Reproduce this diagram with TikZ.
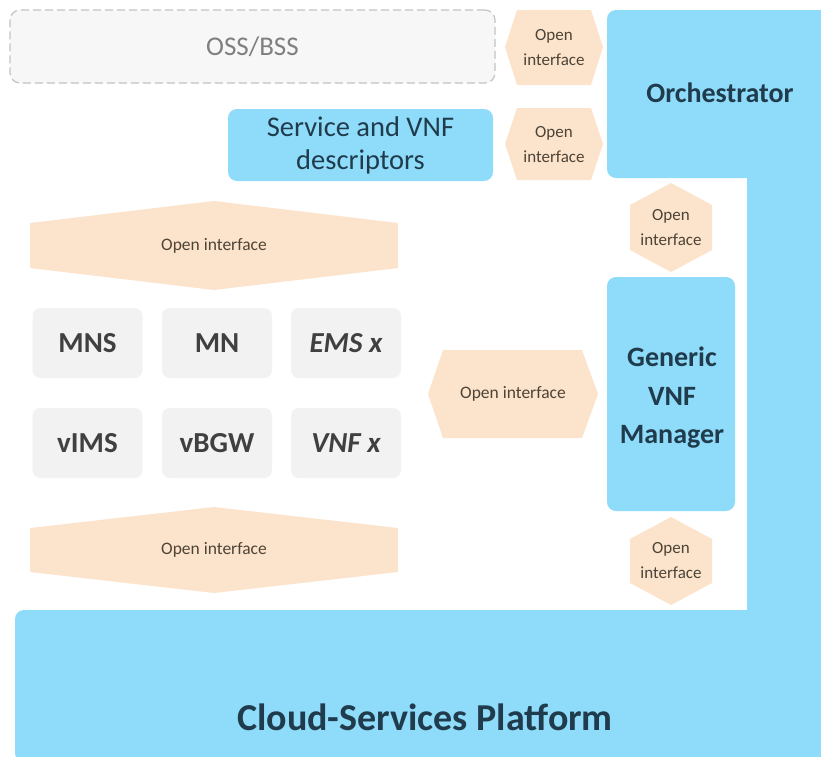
\documentclass[tikz,border=0pt]{standalone}
\usepackage{fontspec}
\setmainfont{Carlito}
\definecolor{skyb}{HTML}{8EDBFA}
\definecolor{peach}{HTML}{FCE4CC}
\definecolor{greybox}{HTML}{F2F2F2}
\definecolor{navy}{HTML}{203B4C}
\definecolor{darkg}{HTML}{404040}
\definecolor{hextext}{HTML}{4D4336}
\definecolor{ossfill}{HTML}{F7F7F7}
\definecolor{ossline}{HTML}{C4C4C4}
\definecolor{osstext}{HTML}{7F7F7F}
\tikzset{
  bluebox/.style={fill=skyb, rounded corners=9pt, inner sep=0pt, text=navy, align=center},
  greycell/.style={fill=greybox, rounded corners=8pt, minimum width=110pt, minimum height=70pt,
    inner sep=0pt, text=darkg, font=\fontsize{29}{34}\selectfont\bfseries},
  hexfill/.style={fill=peach},
  hexsmall/.style={text=hextext, align=center, inner sep=0pt, font=\fontsize{17}{25}\selectfont},
  hexwide/.style={text=hextext, inner sep=0pt, font=\fontsize{17.5}{22}\selectfont},
  bigtext/.style={text=navy, inner sep=0pt, align=center, font=\fontsize{28}{38.5}\selectfont\bfseries},
}
\begin{document}
\begin{tikzpicture}[x=1pt,y=-1pt]
\useasboundingbox (0,0) rectangle (821,756);
\clip (0,0) rectangle (821,756);
\fill[white] (0,0) rectangle (821,756);
% blue platform / orchestrator region
\fill[skyb, rounded corners=9pt] (607,10) rectangle (845,178);
\fill[skyb] (747,10) rectangle (821,756);
\fill[skyb, rounded corners=9pt] (15,610) rectangle (845,762);
\node[bigtext] (orch) at (720,93) {Orchestrator};
\node[text=navy, inner sep=0pt, anchor=base, font=\fontsize{38}{46}\selectfont\bfseries] (cloud) at (425,730) {Cloud-Services Platform};
% OSS/BSS
\node[draw=ossline, line width=1.2pt, dash pattern=on 8pt off 4pt, fill=ossfill, rounded corners=10pt,
  minimum width=485pt, minimum height=73pt, text=osstext, font=\fontsize{27}{32}\selectfont] (oss) at (252.5,46.5) {OSS/BSS};
% Service and VNF descriptors
\node[bluebox, minimum width=265pt, minimum height=72pt, font=\fontsize{28.5}{33}\selectfont] (svc) at (360.5,145) {Service and VNF\\descriptors};
% Generic VNF Manager
\node[bluebox, minimum width=128pt, minimum height=234pt] (vnfm) at (671,394) {};
\node[bigtext] (vnfmtext) at (672,398) {Generic\\VNF\\Manager};
% grey cells
\node[greycell] (mns) at (87.5,343) {MNS};
\node[greycell] (mn) at (217,343) {MN};
\node[greycell] (ems) at (346,343) {\itshape EMS x};
\node[greycell] (vims) at (87.5,443) {vIMS};
\node[greycell] (vbgw) at (217,443) {vBGW};
\node[greycell] (vnfx) at (346,443) {\itshape VNF x};
% hexagons
\fill[hexfill] (505,47) -- (517,10) -- (591,10) -- (603,47) -- (591,85) -- (517,85) -- cycle;
\node[hexsmall] (ifa) at (554,48) {Open\\interface};
\fill[hexfill] (505,144) -- (517,108) -- (591,108) -- (603,144) -- (591,180) -- (517,180) -- cycle;
\node[hexsmall] (ifb) at (554,145) {Open\\interface};
\fill[hexfill] (671,183) -- (712,205) -- (712,250) -- (671,272) -- (630,250) -- (630,205) -- cycle;
\node[hexsmall] (ifc) at (671,228) {Open\\interface};
\fill[hexfill] (671,517) -- (712,539) -- (712,583) -- (671,605) -- (630,583) -- (630,539) -- cycle;
\node[hexsmall] (ifd) at (671,561) {Open\\interface};
\fill[hexfill] (428,394) -- (443,350) -- (582,350) -- (598,394) -- (582,438) -- (443,438) -- cycle;
\node[hexwide] (ife) at (513,394) {Open interface};
\fill[hexfill] (30,223) -- (214,201) -- (398,223) -- (398,268) -- (214,290) -- (30,268) -- cycle;
\node[hexwide] (iff) at (214,246) {Open interface};
\fill[hexfill] (30,528) -- (214,507) -- (398,528) -- (398,572) -- (214,593) -- (30,572) -- cycle;
\node[hexwide] (ifg) at (214,550) {Open interface};
\end{tikzpicture}
\end{document}
